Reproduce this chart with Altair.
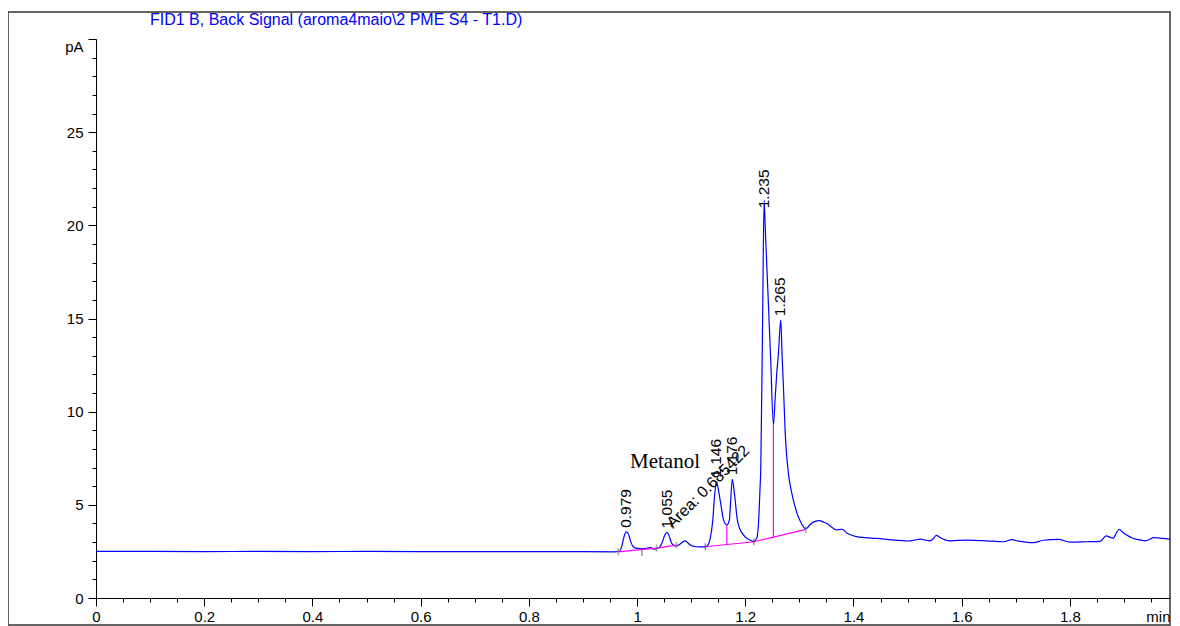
import altair as alt
import pandas as pd

title_text = "FID1 B, Back Signal (aroma4maio\\2 PME S4 - T1.D)"

# ---- signal trace (time in min, signal in pA) ----
time_min = [
    0.000, 0.100, 0.200, 0.300, 0.400, 0.500, 0.600, 0.700, 0.800, 0.900,
    0.960, 0.968, 0.972, 0.976, 0.980, 0.984, 0.988, 0.993, 1.000, 1.010,
    1.020, 1.025, 1.032, 1.040, 1.046, 1.051, 1.055, 1.059, 1.064, 1.070,
    1.076, 1.083, 1.089, 1.094, 1.100, 1.110, 1.120, 1.128, 1.133, 1.137,
    1.140, 1.143, 1.147, 1.151, 1.155, 1.160, 1.166, 1.1706, 1.173, 1.176,
    1.180, 1.1854, 1.190, 1.197, 1.203, 1.209, 1.216, 1.221, 1.224, 1.2274,
    1.2286, 1.232, 1.2348, 1.237, 1.240, 1.243, 1.247, 1.252, 1.255, 1.2582,
    1.261, 1.2656, 1.268, 1.271, 1.2736, 1.2797, 1.286, 1.292, 1.298, 1.304,
    1.310, 1.314, 1.319, 1.328, 1.337, 1.345, 1.351, 1.360, 1.369, 1.375,
    1.379, 1.387, 1.396, 1.406, 1.420, 1.443, 1.470, 1.501, 1.512, 1.523,
    1.541, 1.548, 1.553, 1.560, 1.569, 1.579, 1.609, 1.646, 1.677, 1.693,
    1.705, 1.721, 1.733, 1.751, 1.779, 1.800, 1.831, 1.856, 1.867, 1.875,
    1.880, 1.886, 1.891, 1.898, 1.905, 1.915, 1.924, 1.939, 1.948, 1.954,
    1.965, 1.973, 1.985, 2.000,
]
signal_pA = [
    2.50, 2.50, 2.49, 2.50, 2.49, 2.50, 2.49, 2.49, 2.49, 2.49,
    2.48, 2.52, 2.80, 3.30, 3.55, 3.45, 3.05, 2.75, 2.66, 2.64,
    2.68, 2.70, 2.62, 2.68, 2.95, 3.35, 3.52, 3.35, 2.93, 2.80,
    2.82, 2.98, 3.07, 2.95, 2.82, 2.75, 2.74, 2.76, 2.95, 3.50,
    4.18, 5.40, 6.24, 5.70, 5.00, 4.18, 3.92, 4.18, 5.20, 6.37,
    5.60, 4.18, 3.70, 3.38, 3.20, 3.11, 3.03, 3.20, 3.80, 5.97,
    6.87, 14.8, 21.35, 19.8, 17.7, 15.6, 12.8, 9.28, 10.6, 12.05,
    13.0, 14.91, 13.1, 11.0, 9.01, 6.70, 5.62, 4.90, 4.36, 4.00,
    3.74, 3.75, 3.92, 4.10, 4.15, 4.07, 4.00, 3.80, 3.65, 3.68,
    3.69, 3.50, 3.38, 3.29, 3.24, 3.20, 3.12, 3.06, 3.10, 3.16,
    3.07, 3.20, 3.36, 3.25, 3.12, 3.07, 3.11, 3.07, 3.02, 3.13,
    3.05, 2.99, 2.97, 3.10, 3.15, 3.00, 3.02, 3.04, 3.33, 3.25,
    3.20, 3.50, 3.69, 3.52, 3.38, 3.22, 3.15, 3.07, 3.15, 3.24,
    3.22, 3.20, 3.15, 3.10,
]

# ---- integration baselines (magenta) ----
base_seg = ["a", "a", "a", "b", "b", "b"]
base_t = [0.965, 1.036, 1.073, 1.126, 1.216, 1.312]
base_pA = [2.48, 2.68, 2.84, 2.75, 3.02, 3.68]

# ---- drop lines (magenta) ----
drop_t = [1.166, 1.252]
drop_lo = [2.87, 3.27]
drop_hi = [3.92, 9.28]

# ---- peak labels ----
peak_rt = [0.979, 1.055, 1.146, 1.176, 1.235, 1.265]
peak_h = [3.55, 3.52, 6.24, 6.37, 20.7, 14.91]
peak_lbl = ["0.979", "1.055", "1.146", "1.176", "1.235", "1.265"]

# ---- baseline event markers ----
mark_gray_t = [0.965, 1.036, 1.073, 1.312]
mark_gray_pA = [2.48, 2.68, 2.84, 3.68]
mark_dark_t = [1.009, 1.126, 1.216]
mark_dark_pA = [2.44, 2.75, 3.02]

# ---- annotations ----
area_text = ["Area: 0.685422"]
area_t = [1.0665]
area_pA = [3.70]
compound_text = ["Metanol"]
compound_t = [0.987]
compound_pA = [7.0]

# ---- axis tick values (last major value carries the unit label) ----
X_END = 1.985
x_major = [0, 0.2, 0.4, 0.6, 0.8, 1.0, 1.2, 1.4, 1.6, 1.8, X_END]
x_minor = [round(0.05 * i, 2) for i in range(40)]
y_major = [0, 5, 10, 15, 20, 25, 30]
y_minor = list(range(31))

FONT = "Liberation Sans"
BLUE = "#0000ff"
MAGENTA = "#ff00ff"

xs = alt.Scale(domain=[0, X_END], nice=False, zero=False)
ys = alt.Scale(domain=[0, 30], nice=False, zero=False)

sig_df = pd.DataFrame({"t": time_min, "pA": signal_pA})
base_df = pd.DataFrame({"seg": base_seg, "t": base_t, "pA": base_pA})
drop_df = pd.DataFrame({"t": drop_t, "lo": drop_lo, "hi": drop_hi})
peak_df = pd.DataFrame({"t": peak_rt, "pA": peak_h, "lbl": peak_lbl})
gray_df = pd.DataFrame({"t": mark_gray_t, "pA": mark_gray_pA})
dark_df = pd.DataFrame({"t": mark_dark_t, "pA": mark_dark_pA})
area_df = pd.DataFrame({"t": area_t, "pA": area_pA, "lbl": area_text})
comp_df = pd.DataFrame({"t": compound_t, "pA": compound_pA, "lbl": compound_text})
title_df = pd.DataFrame({"lbl": [title_text]})

x_major_axis = alt.Axis(
    values=x_major, orient="bottom", tickSize=8, labelPadding=3, format="~g",
    labelExpr="datum.value > 1.9 ? 'min' : datum.label",
    labelAlign={"condition": {"test": "datum.value > 1.9", "value": "right"}, "value": "center"},
    tickOpacity={"condition": {"test": "datum.value > 1.9", "value": 0}, "value": 1},
    labelFontSize=15, labelFont=FONT, labelColor="black", domainColor="black",
    tickColor="black", grid=False, title=None, labelFlush=False, labelOverlap=False,
)
y_major_axis = alt.Axis(
    values=y_major, orient="left", tickSize=8, labelPadding=5,
    labelExpr="datum.value == 30 ? 'pA' : datum.label",
    labelBaseline={"condition": {"test": "datum.value == 30", "value": "top"}, "value": "middle"},
    labelFontSize=15, labelFont=FONT, labelColor="black", domainColor="black",
    tickColor="black", grid=False, title=None, labelFlush=False, labelOverlap=False,
)
x_minor_axis = alt.Axis(values=x_minor, orient="bottom", tickSize=4, labels=False,
                        domain=False, tickColor="black", grid=False, title=None)
y_minor_axis = alt.Axis(values=y_minor, orient="left", tickSize=4, labels=False,
                        domain=False, tickColor="black", grid=False, title=None)

signal = alt.Chart(sig_df).mark_line(color=BLUE, strokeWidth=1.2, interpolate="monotone", clip=True).encode(
    x=alt.X("t:Q", scale=xs, axis=x_major_axis),
    y=alt.Y("pA:Q", scale=ys, axis=y_major_axis),
)

baseline = alt.Chart(base_df).mark_line(color=MAGENTA, strokeWidth=1.2).encode(
    x=alt.X("t:Q", scale=xs, axis=x_minor_axis),
    y=alt.Y("pA:Q", scale=ys, axis=y_minor_axis),
    detail="seg:N",
)

drops = alt.Chart(drop_df).mark_rule(color=MAGENTA, strokeWidth=1.2).encode(
    x=alt.X("t:Q", scale=xs, axis=None),
    y=alt.Y("lo:Q", scale=ys, axis=None),
    y2="hi:Q",
)

gray_marks = alt.Chart(gray_df).mark_tick(color="#808080", orient="vertical", size=7, thickness=1.5).encode(
    x=alt.X("t:Q", scale=xs, axis=None),
    y=alt.Y("pA:Q", scale=ys, axis=None),
)
dark_marks = alt.Chart(dark_df).mark_tick(color="#222222", orient="vertical", size=7, thickness=1).encode(
    x=alt.X("t:Q", scale=xs, axis=None),
    y=alt.Y("pA:Q", scale=ys, axis=None),
)

peak_labels = alt.Chart(peak_df).mark_text(
    angle=270, align="left", baseline="middle", dx=4, fontSize=15.5, font=FONT, color="black"
).encode(
    x=alt.X("t:Q", scale=xs, axis=None),
    y=alt.Y("pA:Q", scale=ys, axis=None),
    text="lbl:N",
)

area_label = alt.Chart(area_df).mark_text(
    angle=315, align="left", baseline="alphabetic", fontSize=16, font=FONT, color="black"
).encode(
    x=alt.X("t:Q", scale=xs, axis=None),
    y=alt.Y("pA:Q", scale=ys, axis=None),
    text="lbl:N",
)

compound_label = alt.Chart(comp_df).mark_text(
    align="left", baseline="alphabetic", fontSize=21, font="Liberation Serif", color="black"
).encode(
    x=alt.X("t:Q", scale=xs, axis=None),
    y=alt.Y("pA:Q", scale=ys, axis=None),
    text="lbl:N",
)

title_mark = alt.Chart(title_df).mark_text(
    align="left", baseline="alphabetic", fontSize=16, font=FONT, color=BLUE
).encode(
    x=alt.value(54), y=alt.value(-14), text="lbl:N",
)

frame = alt.Chart(title_df).mark_rect(fillOpacity=0, stroke="#333333", strokeWidth=1.5).encode(
    x=alt.value(-88), x2=alt.value(1074), y=alt.value(-27), y2=alt.value(586),
)

chart = alt.layer(
    frame, signal, baseline, drops, gray_marks, dark_marks,
    peak_labels, area_label, compound_label, title_mark,
).resolve_axis(
    x="independent", y="independent"
).properties(
    width=1074, height=559,
    padding={"left": 88, "top": 31, "right": 2, "bottom": 28},
    autosize=alt.AutoSizeParams(type="none"),
    background="white",
).configure(
    font=FONT
).configure_view(
    strokeWidth=0
)

chart.save("out.html", embed_options={"renderer": "svg", "actions": False})
